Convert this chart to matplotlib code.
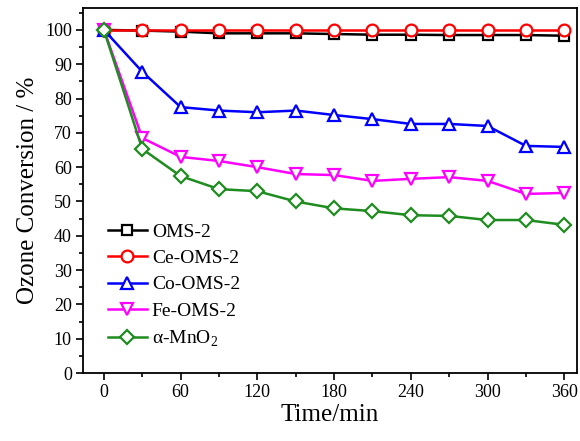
import numpy as np
import matplotlib
matplotlib.use("Agg")
import matplotlib.pyplot as plt
from matplotlib.ticker import MultipleLocator

plt.rcParams['font.family'] = ['Liberation Serif', 'DejaVu Serif']
plt.rcParams['mathtext.fontset'] = 'custom'
plt.rcParams['mathtext.rm'] = 'Liberation Serif'

time = [0, 30, 60, 90, 120, 150, 180, 210, 240, 270, 300, 330, 360]
oms2 = [100, 99.8, 99.5, 99, 99, 99, 98.8, 98.6, 98.6, 98.5, 98.5, 98.5, 98.3]
ce_oms2 = [100, 100, 100, 100, 100, 100, 100, 100, 100, 100, 100, 100, 100]
co_oms2 = [100, 87.8, 77.5, 76.5, 76, 76.5, 75.2, 74, 72.6, 72.6, 72, 66.2, 65.9]
fe_oms2 = [100, 68.5, 63, 61.8, 60, 58, 57.7, 56, 56.6, 57.1, 56, 52.2, 52.5]
mno2 = [100, 65.3, 57.4, 53.6, 53, 50, 48, 47.2, 46, 45.8, 44.6, 44.6, 43.2]

series = [
    ("OMS-2", oms2, "black", "s", 7.5),
    ("Ce-OMS-2", ce_oms2, "red", "o", 8.5),
    ("Co-OMS-2", co_oms2, "blue", "^", 9),
    ("Fe-OMS-2", fe_oms2, "magenta", "v", 9),
    ("α-MnO$_\\mathrm{2}$", mno2, "#1e8c1e", "D", 7),
]

fig = plt.figure(figsize=(5.8, 4.41), dpi=100)
ax = fig.add_axes([0.143, 0.154, 0.852, 0.828])

for label, vals, c, m, ms in series:
    ax.plot(time, vals, color=c, marker=m, markersize=ms, markerfacecolor="white",
            markeredgewidth=1.6, linewidth=1.8, label=label)

ax.set_xlim(-16.4, 370)
ax.set_ylim(0, 106.4)
ax.xaxis.set_major_locator(MultipleLocator(60))
ax.xaxis.set_minor_locator(MultipleLocator(30))
ax.yaxis.set_major_locator(MultipleLocator(10))
ax.yaxis.set_minor_locator(MultipleLocator(5))
ax.tick_params(which="both", direction="out", labelsize=13, width=1.2)
ax.tick_params(which="major", length=5, pad=3)
ax.tick_params(which="minor", length=3)
for s in ax.spines.values():
    s.set_linewidth(1.3)

ax.set_xlabel("Time/min", fontsize=18, labelpad=2)
ax.set_ylabel("Ozone Conversion / %", fontsize=18, labelpad=4)

ax.legend(loc="lower left", frameon=False, fontsize=14, handlelength=2.0,
          handletextpad=0.25, labelspacing=0.45, borderaxespad=0.0,
          bbox_to_anchor=(0.035, 0.045))

fig.savefig("out.png", dpi=100)
